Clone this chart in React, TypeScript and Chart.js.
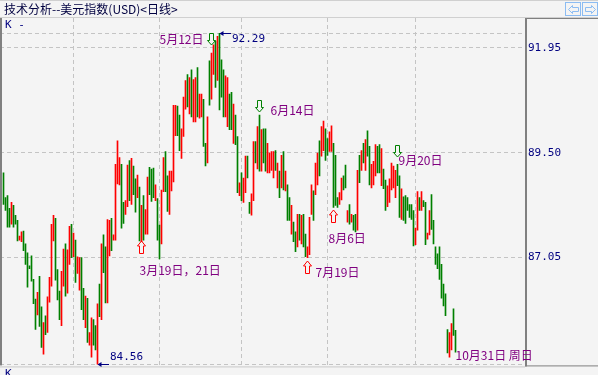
import React, { useEffect, useRef } from 'react';
import { Chart, registerables } from 'chart.js';

Chart.register(...registerables);

// ---------------- data ----------------
const TITLE = '技术分析--美元指数(USD)<日线>';
const SERIES_NAME = 'K -';

const highs = [
  89.03, 88.45, 88.50, 88.20, 88.34, 88.27, 88.04, 87.92, 87.55, 87.65,
  87.67, 87.37, 87.16, 86.86, 87.09, 86.54, 86.08, 86.24, 86.61, 85.90,
  85.53, 85.69, 86.13, 86.59, 87.83, 88.04, 87.97, 86.77, 86.27, 86.73,
  87.25, 87.37, 87.23, 87.78, 87.83, 87.62, 87.46, 87.07, 87.05, 87.05,
  86.33, 86.15, 86.10, 85.30, 85.64, 85.60, 85.46, 85.97, 86.43, 87.37,
  87.58, 87.30, 87.94, 87.92, 87.97, 87.58, 89.23, 89.78, 89.39, 89.23,
  88.34, 88.38, 89.21, 89.32, 89.37, 89.19, 88.89, 88.98, 88.70, 88.27,
  88.50, 88.17, 88.93, 89.16, 89.12, 89.14, 88.75, 88.43, 87.81, 88.63,
  89.39, 89.53, 88.96, 89.07, 89.07, 90.61, 90.61, 90.59, 90.38, 90.06,
  90.80, 91.19, 91.33, 91.26, 91.44, 91.21, 91.26, 91.49, 90.87, 90.87,
  90.75, 89.72, 90.34, 91.65, 91.83, 92.02, 92.11, 92.22, 92.29, 91.67,
  91.44, 91.30, 91.26, 90.87, 90.91, 90.64, 90.38, 89.88, 88.80, 89.03,
  88.91, 89.42, 89.42, 88.34, 88.54, 89.76, 89.76, 90.11, 90.38, 90.04,
  90.06, 90.06, 89.72, 89.49, 89.53, 89.53, 89.55, 89.26, 89.07, 89.44,
  89.53, 89.07, 88.75, 88.45, 88.27, 87.88, 87.65, 88.06, 88.06, 88.04,
  88.06, 87.60, 87.30, 87.99, 88.75, 88.61, 89.26, 89.49, 89.78, 90.11,
  90.24, 90.06, 89.83, 89.99, 90.13, 89.72, 89.44, 88.45, 88.57, 88.91,
  88.96, 89.21, 88.15, 88.29, 88.06, 88.04, 88.06, 89.09, 89.44, 89.55,
  89.72, 89.81, 90.01, 89.65, 89.23, 89.30, 89.69, 89.65, 89.69, 89.60,
  89.12, 88.86, 88.73, 88.89, 89.26, 89.19, 89.09, 89.23, 88.96, 88.66,
  88.47, 88.50, 88.45, 88.29, 88.29, 88.15, 87.74, 88.59, 88.45, 88.59,
  88.38, 88.34, 87.62, 88.15, 88.52, 87.92, 87.30, 87.14, 87.30, 86.89,
  86.43, 86.20, 85.37, 85.30, 85.51, 85.85, 85.35,
];

const lows = [
  88.29, 88.15, 87.76, 87.76, 87.83, 87.76, 87.83, 87.44, 87.46, 87.42,
  87.21, 86.89, 86.36, 86.79, 86.50, 85.97, 85.37, 85.71, 85.44, 84.95,
  84.79, 85.25, 85.30, 86.01, 86.38, 87.44, 86.52, 86.06, 85.60, 85.46,
  86.38, 86.15, 86.22, 86.89, 87.05, 87.07, 86.47, 86.68, 86.29, 85.83,
  85.60, 85.41, 85.07, 85.00, 84.72, 85.00, 84.89, 84.56, 85.67, 85.60,
  86.70, 85.99, 85.99, 87.09, 87.21, 87.46, 87.46, 88.77, 88.75, 87.74,
  87.85, 88.06, 88.24, 88.38, 88.29, 88.52, 88.11, 88.45, 87.44, 87.42,
  87.46, 87.60, 87.60, 88.52, 88.36, 88.45, 88.38, 87.46, 87.02, 87.37,
  88.59, 88.59, 88.13, 88.06, 88.61, 88.82, 89.90, 89.90, 89.55, 89.37,
  89.88, 90.52, 90.57, 90.41, 90.34, 90.22, 90.22, 90.34, 90.31, 90.34,
  89.65, 89.19, 89.26, 90.61, 90.75, 91.33, 91.03, 91.19, 90.50, 90.80,
  90.34, 90.34, 90.11, 90.04, 90.04, 89.72, 89.69, 88.57, 88.50, 88.38,
  88.34, 88.57, 88.91, 88.08, 88.04, 88.38, 89.26, 89.12, 89.07, 89.07,
  89.26, 89.07, 89.03, 89.03, 89.09, 88.91, 89.09, 88.68, 88.45, 88.68,
  88.63, 88.61, 87.92, 87.92, 87.60, 87.42, 87.19, 87.30, 87.46, 87.37,
  87.30, 87.07, 87.05, 87.12, 88.06, 87.92, 88.52, 88.75, 88.96, 89.42,
  89.55, 89.32, 89.44, 89.53, 89.53, 88.22, 88.27, 88.22, 88.29, 88.40,
  88.63, 88.68, 87.88, 87.83, 87.88, 87.69, 87.65, 87.69, 88.80, 89.09,
  89.26, 89.09, 89.42, 88.75, 88.68, 88.75, 88.96, 89.03, 89.03, 88.73,
  88.66, 88.15, 88.24, 88.34, 88.63, 88.68, 88.45, 88.73, 87.99, 87.94,
  87.92, 87.85, 88.15, 87.99, 87.94, 87.32, 87.35, 87.69, 88.15, 88.15,
  88.24, 87.35, 87.48, 87.58, 87.71, 87.37, 86.89, 86.79, 86.54, 86.10,
  85.92, 85.69, 84.82, 84.72, 84.89, 85.23, 84.84,
];

// u = rising day (red), d = falling day (green)
const dirs = (
  'dddduddduu' + 'dddddddudd' + 'uduuuudddu' + 'uduududuud' + 'duduuddudu' +
  'dduuduuuud' + 'duududdudu' + 'duuddduddu' + 'udduuuuddu' + 'uududuuduu' +
  'dduduududd' + 'duudduddud' + 'uudduududu' + 'dduuuududu' + 'dudduddudu' +
  'dduuuduudu' + 'udduuddduu' + 'ddududdudu' + 'dudduuuddu' + 'dduuuuuddu' +
  'dddddduudu' + 'dduudddddd' + 'ddduudd'
).split('');

// bar indices where a new (even) month begins: Feb, Apr, Jun, Aug, Oct
const monthStarts = [35, 78, 119, 162, 206];
const axisTicks = [91.95, 89.5, 87.05];

const noteLabels = ['5月12日', '6月14日', '3月19日，21日', '7月19日', '8月6日', '9月20日', '10月31日 周日'];
const noteBars = [104, 128, 69, 152, 165, 197, 226];
const noteKinds = ['high', 'high', 'low', 'low', 'low', 'high', 'last'];

// ---------------- drawing helpers ----------------
const RED = '#ff0000';
const GREEN = '#008000';
const NAVY = '#000080';
const PURPLE = '#800080';
const GRID = '#c4c4c4';
const FRAME = '#808080';

const NOTE_LAYOUT = [
  { gap: 8, dx: -8, dy: -6, align: 'right' },
  { gap: 3, dx: 11, dy: -2, align: 'left' },
  { gap: -1, dx: -2, dy: 29, align: 'left' },
  { gap: 3, dx: 8, dy: 11, align: 'left' },
  { gap: 2, dx: -5, dy: 28, align: 'left' },
  { gap: 7, dx: 1, dy: 3, align: 'left' },
  { gap: 0, dx: 0, dy: 3, align: 'left' },
];

function poly(ctx: CanvasRenderingContext2D, pts: number[][], color: string) {
  ctx.beginPath();
  ctx.moveTo(pts[0][0], pts[0][1]);
  for (let i = 1; i < pts.length; i++) ctx.lineTo(pts[i][0], pts[i][1]);
  ctx.closePath();
  ctx.strokeStyle = color;
  ctx.lineWidth = 1;
  ctx.stroke();
}

function downArrow(ctx: CanvasRenderingContext2D, cx: number, tip: number, color: string) {
  const t = tip - 12 + 0.5;
  poly(ctx, [
    [cx - 2, t], [cx + 2, t], [cx + 2, t + 7], [cx + 4, t + 7], [cx, t + 11.5],
    [cx - 4, t + 7], [cx - 2, t + 7],
  ], color);
}

function upArrow(ctx: CanvasRenderingContext2D, cx: number, tip: number, color: string) {
  const t = tip + 0.5;
  poly(ctx, [
    [cx, t - 0.5], [cx + 4, t + 4.5], [cx + 2, t + 4.5], [cx + 2, t + 12],
    [cx - 2, t + 12], [cx - 2, t + 4.5], [cx - 4, t + 4.5],
  ], color);
}

function valueMarker(ctx: CanvasRenderingContext2D, cx: number, y: number, text: string, textDy: number) {
  const yy = Math.round(y) + 0.5;
  ctx.strokeStyle = NAVY;
  ctx.fillStyle = NAVY;
  ctx.lineWidth = 1;
  ctx.beginPath();
  ctx.moveTo(cx + 1, yy);
  ctx.lineTo(cx + 12, yy);
  ctx.stroke();
  ctx.beginPath();
  ctx.moveTo(cx + 0.5, yy);
  ctx.lineTo(cx + 4.5, yy - 2.5);
  ctx.lineTo(cx + 4.5, yy + 2.5);
  ctx.closePath();
  ctx.fill();
  ctx.font = '11px "DejaVu Sans Mono"';
  ctx.textAlign = 'left';
  ctx.textBaseline = 'middle';
  ctx.fillText(text, cx + 13, yy + textDy);
}

const decor = {
  id: 'decor',
  beforeDraw(chart: any) {
    const { ctx, width, height } = chart;
    ctx.save();
    ctx.fillStyle = '#f4f4f4';
    ctx.fillRect(0, 0, width, height);
    ctx.fillStyle = '#d0d0d0';
    ctx.fillRect(0, 0, width, 1);
    ctx.fillRect(0, 17, width, 1);

    ctx.textAlign = 'left';
    ctx.textBaseline = 'middle';
    ctx.fillStyle = '#000040';
    ctx.font = '12px "Noto Sans CJK SC"';
    ctx.fillText(TITLE, 4, 9);

    ctx.fillStyle = NAVY;
    ctx.font = '11px "DejaVu Sans Mono"';
    ctx.fillText(SERIES_NAME, 5, 25);

    // navigation buttons
    const btnColor = '#8cbcf2';
    [565, 582].forEach((bx, k) => {
      ctx.strokeStyle = btnColor;
      ctx.lineWidth = 1;
      ctx.strokeRect(bx + 0.5, 2.5, 15, 13);
      const m = 9;
      const pts = k === 0
        ? [[bx + 3, m], [bx + 7, m - 4], [bx + 7, m - 2], [bx + 13, m - 2], [bx + 13, m + 2], [bx + 7, m + 2], [bx + 7, m + 4]]
        : [[bx + 13, m], [bx + 9, m - 4], [bx + 9, m - 2], [bx + 3, m - 2], [bx + 3, m + 2], [bx + 9, m + 2], [bx + 9, m + 4]];
      poly(ctx, pts.map(p => [p[0] + 0.5, p[1] + 0.5]), btnColor);
    });
    ctx.restore();
  },
  afterDraw(chart: any) {
    const { ctx, width } = chart;
    const { left, right, top, bottom } = chart.chartArea;
    const xs = chart.scales.x;
    const ys = chart.scales.y;
    ctx.save();

    // frame
    ctx.fillStyle = FRAME;
    ctx.fillRect(right, top, 2, bottom - top + 1);
    ctx.fillRect(right, top, width - right, 1);
    ctx.fillRect(right, bottom, width - right, 1);
    ctx.fillRect(left, top, 2, bottom - top);
    ctx.fillStyle = '#c8c8c8';
    ctx.fillRect(0, bottom + 1, right, 1);

    ctx.fillStyle = NAVY;
    ctx.font = '11px "DejaVu Sans Mono"';
    ctx.textAlign = 'left';
    ctx.textBaseline = 'top';
    ctx.fillText('K', 5, bottom + 3);

    // extremes
    const maxV = Math.max(...highs);
    const minV = Math.min(...lows);
    const iMax = highs.indexOf(maxV);
    const iMin = lows.indexOf(minV);
    valueMarker(ctx, Math.floor(xs.getPixelForValue(iMax)), ys.getPixelForValue(maxV), maxV.toFixed(2), 6);
    valueMarker(ctx, Math.floor(xs.getPixelForValue(iMin)), ys.getPixelForValue(minV), minV.toFixed(2), -7);

    // notes
    noteBars.forEach((bi, k) => {
      const L: any = NOTE_LAYOUT[k];
      const cx = Math.floor(xs.getPixelForValue(bi)) + 0.5;
      const kind = noteKinds[k];
      let tip: number;
      if (kind === 'high') {
        tip = Math.round(ys.getPixelForValue(highs[bi])) - L.gap;
        downArrow(ctx, cx, tip, GREEN);
      } else if (kind === 'low') {
        tip = Math.round(ys.getPixelForValue(lows[bi])) + L.gap;
        upArrow(ctx, cx, tip, RED);
      } else {
        tip = ys.getPixelForValue(lows[bi]);
      }
      ctx.fillStyle = PURPLE;
      ctx.font = '12px "Noto Sans CJK SC"';
      ctx.textAlign = L.align;
      ctx.textBaseline = 'middle';
      ctx.fillText(noteLabels[k], cx + L.dx, tip + L.dy);
    });
    ctx.restore();
  },
};

export default function App() {
  const ref = useRef<HTMLCanvasElement | null>(null);

  useEffect(() => {
    if (!ref.current) return;
    const gridValues = [Math.min(...lows), ...axisTicks, Math.max(...highs)];
    const chart = new Chart(ref.current, {
      type: 'bar',
      data: {
        datasets: [
          {
            data: highs.map((h, i) => ({ x: i, y: [lows[i], h] })) as any,
            backgroundColor: dirs.map(d => (d === 'u' ? RED : GREEN)),
            barThickness: 1,
            borderWidth: 0,
          },
        ],
      },
      options: {
        animation: false,
        responsive: false,
        devicePixelRatio: 1,
        layout: { padding: { top: 18, bottom: 6, left: 0, right: 0 } },
        plugins: { legend: { display: false }, tooltip: { enabled: false } },
        scales: {
          x: {
            type: 'linear',
            offset: false,
            min: -1.75,
            max: 260.75,
            afterBuildTicks: (s: any) => {
              s.ticks = monthStarts.map(v => ({ value: v }));
            },
            afterFit: (s: any) => {
              s.height = 0;
            },
            ticks: { display: false },
            grid: { color: GRID, lineWidth: 1, drawTicks: false, offset: false },
            border: { display: false, dash: [4, 3] },
          },
          y: {
            type: 'linear',
            position: 'right',
            min: 84.53,
            max: 92.65,
            afterBuildTicks: (s: any) => {
              s.ticks = gridValues.map(v => ({ value: v }));
            },
            afterFit: (s: any) => {
              s.width = 73;
            },
            ticks: {
              autoSkip: false,
              padding: 3,
              color: NAVY,
              font: { family: 'DejaVu Sans Mono', size: 11 },
              callback: (v: any) =>
                axisTicks.some(t => Math.abs(t - Number(v)) < 1e-6) ? Number(v).toFixed(2) : '',
            },
            grid: { color: GRID, lineWidth: 1, drawTicks: false },
            border: { display: false, dash: [4, 3] },
          },
        },
      },
      plugins: [decor],
    });
    return () => chart.destroy();
  }, []);

  return (
    <div style={{ position: 'fixed', left: 0, top: 0, width: 598, height: 375, background: '#f4f4f4' }}>
      <canvas ref={ref} width={598} height={375} style={{ display: 'block' }} />
    </div>
  );
}
